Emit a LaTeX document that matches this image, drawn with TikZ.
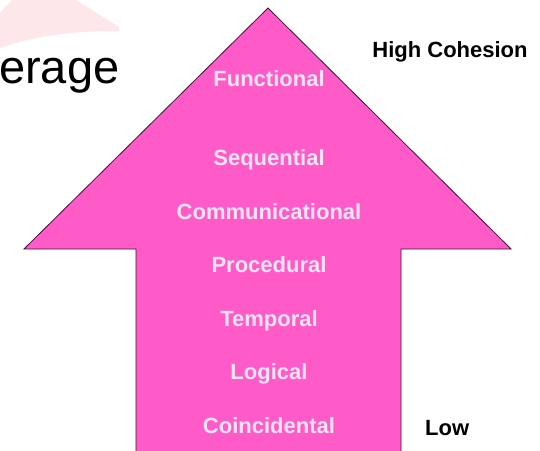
\documentclass[tikz,border=0pt]{standalone}
\usepackage{fontspec}
\setmainfont{Liberation Sans}
\usepackage{tikz}

\definecolor{arrowpink}{RGB}{255,91,200}
\definecolor{levelwhite}{RGB}{250,228,245}
\definecolor{swooshpink}{RGB}{253,231,234}
\definecolor{edgedark}{RGB}{60,20,50}

\begin{document}
\begin{tikzpicture}[x=1pt, y=-1pt,
	level/.style={anchor=base, inner sep=0pt, text=levelwhite, font=\fontsize{22}{25}\selectfont\bfseries},
	side/.style={inner sep=0pt, text=black, font=\fontsize{22}{25}\selectfont\bfseries}]
	% параметры
	\def\W{540}  % ширина картинки
	\def\H{450}  % высота картинки
	\def\X{269}  % ось стрелки

	\useasboundingbox (0,0) rectangle (\W,\H);

	\begin{scope}
		\clip (0,0) rectangle (\W,\H);

		% бледный завиток в углу
		\fill[swooshpink] (12,0) -- (76,0) -- (119,27) -- (119,31)
			.. controls (80,31) and (40,34) .. (0,48) -- (0,13)
			.. controls (5,7) .. (12,0) -- cycle;

		% стрелка
		\draw[fill=arrowpink, draw=edgedark, line width=0.8pt, line join=miter]
			(136,460) -- (136,249) -- (24,249) -- (268,8) -- (511,249)
			-- (401,249) -- (401,460);
	\end{scope}

	% обрезанный заголовок
	\node[anchor=base west, inner sep=0pt, font=\fontsize{47}{52}\selectfont] (title) at (-1,83) {erage};

	% уровни
	\node[level] (functional)      at (\X,86)  {Functional};
	\node[level] (sequential)      at (\X,165) {Sequential};
	\node[level] (communicational) at (\X,219) {Communicational};
	\node[level] (procedural)      at (\X,272) {Procedural};
	\node[level] (temporal)        at (\X,326) {Temporal};
	\node[level] (logical)         at (\X,379) {Logical};
	\node[level] (coincidental)    at (\X,433) {Coincidental};

	% подписи справа
	\node[side, anchor=base] (high) at (450,57.5) {High Cohesion};
	\node[side, anchor=base west] (low) at (425,435) {Low};
\end{tikzpicture}
\end{document}
